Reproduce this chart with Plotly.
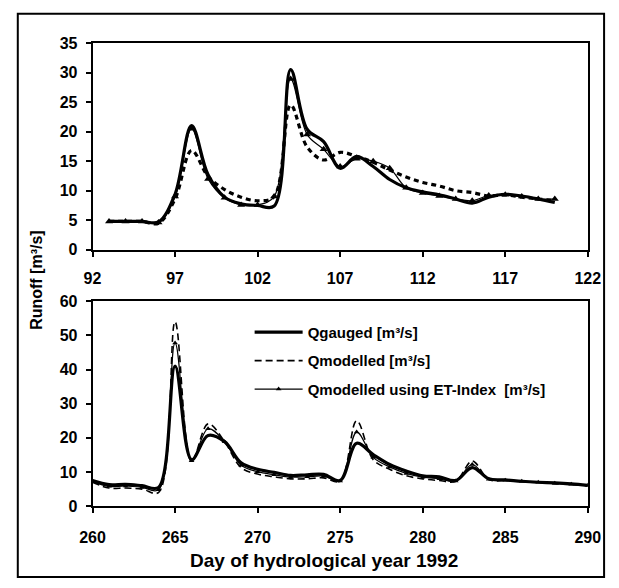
import plotly.graph_objects as go

W, H = 619, 588

# ---- data: top panel (spring event) ----
days_top = list(range(93, 121))
gauged_top = [4.8, 4.8, 4.8, 4.7, 9.4, 21.0, 12.7, 8.9, 7.8, 7.5, 7.4, 30.5, 20.4, 18.3,
              13.8, 15.8, 14.1, 11.9, 10.5, 9.8, 9.3, 8.6, 7.9, 8.9, 9.4, 9.1, 8.6, 8.0]
modelled_top = [4.8, 4.8, 4.8, 4.5, 8.6, 16.8, 12.4, 10.2, 8.9, 8.3, 9.0, 24.5, 17.4, 15.2,
                16.5, 15.8, 14.8, 13.5, 12.3, 11.4, 10.8, 10.0, 9.7, 9.1, 9.3, 8.9, 8.6, 8.3]
etindex_top = [4.8, 4.8, 4.8, 4.6, 9.0, 20.5, 12.0, 8.8, 7.6, 7.6, 9.0, 28.9, 19.5, 17.0,
               14.1, 15.4, 15.0, 13.8, 10.5, 9.6, 9.1, 8.6, 8.3, 9.2, 9.3, 9.0, 8.6, 8.6]

# ---- data: bottom panel (autumn event) ----
days_bot = list(range(260, 291))
gauged_bot = [7.5, 6.3, 6.4, 6.0, 5.5, 41.0, 13.6, 20.7, 18.9, 12.7, 10.8, 9.9, 9.0, 9.2, 9.3,
              7.5, 18.4, 15.1, 12.2, 10.3, 8.9, 8.6, 7.5, 11.3, 8.0, 7.7, 7.3, 7.0, 6.8, 6.5, 6.1]
modelled_bot = [7.0, 5.3, 5.3, 5.0, 4.0, 54.0, 13.0, 24.1, 18.9, 11.3, 9.4, 8.6, 8.0, 8.0, 8.3,
                7.3, 25.0, 13.6, 10.8, 8.9, 8.0, 7.5, 7.3, 13.2, 7.8, 7.5, 7.2, 6.9, 6.6, 6.3, 6.0]
etindex_bot = [7.2, 5.8, 5.9, 5.5, 4.8, 47.8, 13.3, 22.7, 18.9, 12.0, 10.1, 9.2, 8.5, 8.6, 8.8,
               7.4, 21.7, 14.3, 11.5, 9.6, 8.5, 8.0, 7.4, 12.2, 7.9, 7.6, 7.3, 7.0, 6.7, 6.4, 6.1]

top_xticks = [92, 97, 102, 107, 112, 117, 122]
top_yticks = [0, 5, 10, 15, 20, 25, 30, 35]
bot_xticks = [260, 265, 270, 275, 280, 285, 290]
bot_yticks = [0, 10, 20, 30, 40, 50, 60]

names = ["Qgauged [m³/s]", "Qmodelled [m³/s]", "Qmodelled using ET-Index  [m³/s]"]

FONT = "Liberation Sans, Arial, sans-serif"


def px_x(p):
    return p / W


def px_y(p):
    return 1 - p / H


fig = go.Figure()

# top panel
fig.add_trace(go.Scatter(x=days_top, y=gauged_top, mode="lines", name=names[0],
                         line=dict(color="black", width=3.2, shape="spline"),
                         showlegend=False, xaxis="x", yaxis="y"))
fig.add_trace(go.Scatter(x=days_top, y=modelled_top, mode="lines", name=names[1],
                         line=dict(color="black", width=3.2, dash="5px,4px", shape="spline"),
                         showlegend=False, xaxis="x", yaxis="y"))
fig.add_trace(go.Scatter(x=days_top, y=etindex_top, mode="lines+markers", name=names[2],
                         line=dict(color="black", width=1.2, shape="spline"),
                         marker=dict(symbol="triangle-up", size=7, color="black"),
                         showlegend=False, xaxis="x", yaxis="y"))

# bottom panel
fig.add_trace(go.Scatter(x=days_bot, y=gauged_bot, mode="lines", name=names[0],
                         line=dict(color="black", width=3.2, shape="spline"),
                         legendgroup="a", xaxis="x2", yaxis="y2"))
fig.add_trace(go.Scatter(x=days_bot, y=modelled_bot, mode="lines", name=names[1],
                         line=dict(color="black", width=1.6, dash="7px,4px", shape="spline"),
                         legendgroup="b", xaxis="x2", yaxis="y2"))
fig.add_trace(go.Scatter(x=days_bot, y=etindex_bot, mode="lines+markers", name=names[2],
                         line=dict(color="black", width=1.2, shape="spline"),
                         marker=dict(symbol="triangle-up", size=5, color="black"),
                         legendgroup="c", xaxis="x2", yaxis="y2"))

axis_common = dict(showline=True, linecolor="black", linewidth=1.6, mirror=True,
                   ticks="outside", ticklen=5, tickwidth=1.5, tickcolor="black",
                   showgrid=False, zeroline=False,
                   tickfont=dict(family=FONT, size=16, color="black", weight="bold"))

xdom = [px_x(83), px_x(600)]

fig.update_layout(
    width=W, height=H,
    margin=dict(l=0, r=0, t=0, b=0),
    paper_bgcolor="white", plot_bgcolor="white",
    font=dict(family=FONT, color="black"),
    xaxis=dict(domain=xdom, anchor="y", range=[92, 122], tickvals=top_xticks,
               ticklabelstandoff=8, **axis_common),
    yaxis=dict(domain=[px_y(249), px_y(36)], anchor="x", range=[0, 35], tickvals=top_yticks,
               ticklabelstandoff=5, **axis_common),
    xaxis2=dict(domain=xdom, anchor="y2", range=[260, 290], tickvals=bot_xticks,
                ticklabelstandoff=11, **axis_common),
    yaxis2=dict(domain=[px_y(513), px_y(302)], anchor="x2", range=[0, 60], tickvals=bot_yticks,
                ticklabelstandoff=5, **axis_common),
    legend=dict(x=px_x(247), y=px_y(317), xanchor="left", yanchor="top",
                bgcolor="rgba(0,0,0,0)", itemwidth=48, tracegroupgap=6,
                font=dict(family=FONT, size=15, color="black", weight="bold")),
    showlegend=True,
)

fig.add_annotation(text="Runoff [m³/s]", textangle=-90, x=px_x(25), y=px_y(280),
                   xref="paper", yref="paper", showarrow=False,
                   xanchor="center", yanchor="middle",
                   font=dict(family=FONT, size=16, color="black", weight="bold"))
fig.add_annotation(text="Day of hydrological year 1992", x=px_x(325), y=px_y(569),
                   xref="paper", yref="paper", showarrow=False,
                   xanchor="center", yanchor="middle",
                   font=dict(family=FONT, size=19, color="black", weight="bold"))

fig.add_shape(type="rect", xref="paper", yref="paper",
              x0=px_x(5), x1=px_x(617), y0=px_y(586), y1=px_y(6),
              line=dict(color="black", width=2))

fig.write_html("out.html")
